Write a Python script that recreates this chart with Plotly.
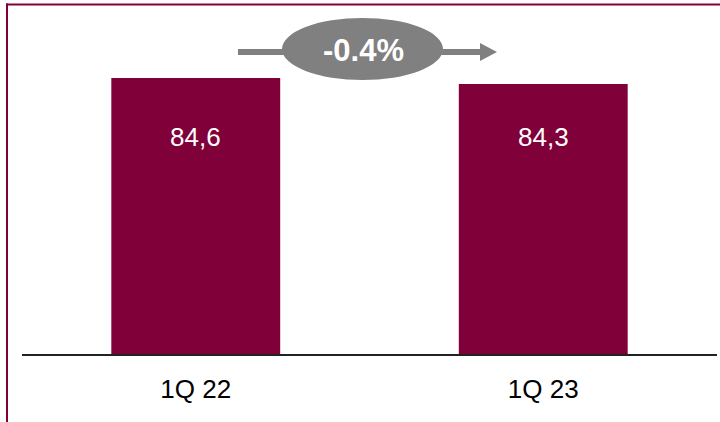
import plotly.graph_objects as go

categories = ["1Q 22", "1Q 23"]
values = [84.6, 84.3]

change_pct = (values[1] / values[0] - 1) * 100
change_text = f"{change_pct:.1f}%"
value_texts = [f"{v:.1f}".replace(".", ",") for v in values]

W_FIG, H_FIG = 720, 422
L, R, T, B = 22, 3, 20, 68
PW = W_FIG - L - R
PH = H_FIG - T - B
PB = H_FIG - B

def px2x(px):
    return (px - L) / PW

def py2y(py):
    return (PB - py) / PH

BAR = "#80003A"
GREY = "#808080"
FONT = "Arial, Liberation Sans, sans-serif"

y0 = 70.8
y1 = y0 + PH / 20.0

fig = go.Figure(go.Bar(
    x=categories, y=values, marker=dict(color=BAR, line=dict(width=0)),
    width=0.486, hoverinfo="skip",
))

annotations = []
for c, t in zip(categories, value_texts):
    annotations.append(dict(x=c, y=py2y(137), xref="x", yref="paper", text=t, showarrow=False,
                            yanchor="middle",
                            font=dict(family=FONT, size=26, color="white")))

annotations.append(dict(x=px2x(363), y=py2y(50), xref="paper", yref="paper", text=f"<b>{change_text}</b>",
                        xanchor="center", yanchor="middle",
                        showarrow=False, font=dict(family=FONT, size=31, color="white")))

shapes = [
    # frame: top and left
    dict(type="line", xref="paper", yref="paper", x0=px2x(6), x1=px2x(721), y0=py2y(4.5), y1=py2y(4.5),
         line=dict(color=BAR, width=2)),
    dict(type="line", xref="paper", yref="paper", x0=px2x(7), x1=px2x(7), y0=py2y(3.5), y1=py2y(423),
         line=dict(color=BAR, width=2)),
    # arrow shaft
    dict(type="line", xref="paper", yref="paper", x0=px2x(238), x1=px2x(481), y0=py2y(52), y1=py2y(52),
         line=dict(color=GREY, width=6), layer="above"),
    # arrow head
    dict(type="path", xref="paper", yref="paper",
         path=f"M {px2x(480)} {py2y(43)} L {px2x(497)} {py2y(52)} L {px2x(480)} {py2y(61)} Z",
         fillcolor=GREY, line=dict(width=0), layer="above"),
    # ellipse
    dict(type="circle", xref="paper", yref="paper", x0=px2x(282), x1=px2x(443), y0=py2y(18), y1=py2y(80),
         fillcolor=GREY, line=dict(width=0), layer="above"),
]

fig.update_layout(
    width=W_FIG, height=H_FIG,
    margin=dict(l=L, r=R, t=T, b=B),
    paper_bgcolor="white", plot_bgcolor="white",
    showlegend=False,
    xaxis=dict(showline=True, linecolor="#222222", linewidth=2, showgrid=False, zeroline=False,
               ticks="outside", ticklen=11, tickcolor="rgba(0,0,0,0)",
               tickfont=dict(family=FONT, size=26, color="black"), fixedrange=True),
    yaxis=dict(range=[y0, y1], visible=False, showgrid=False, zeroline=False, fixedrange=True),
    annotations=annotations,
    shapes=shapes,
)

fig.write_html("out.html", config={"displayModeBar": False},
               post_script="document.body.style.margin='0';document.body.style.overflow='hidden';")
